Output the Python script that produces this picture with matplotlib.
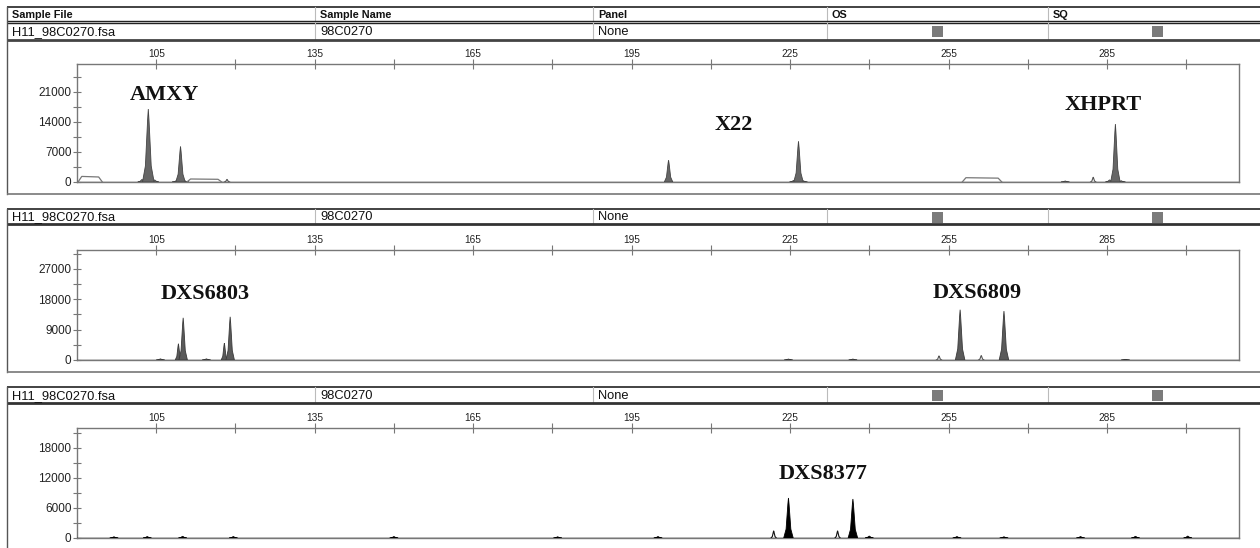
import numpy as np
import matplotlib.pyplot as plt
from matplotlib.patches import Rectangle

W, H = 1260, 548

# ---- header table ----
header_cols = ["Sample File", "Sample Name", "Panel", "OS", "SQ"]
row_values = ["H11_98C0270.fsa", "98C0270", "None"]
col_edges = [7, 315, 593, 827, 1048]

# ---- size axis (bp) ----
size_lim = (90, 310)
size_major = [105, 135, 165, 195, 225, 255, 285]
size_minor = [120, 150, 180, 210, 240, 270, 300]

# ---- panel 1 (blue dye): AMXY, X22, XHPRT ----
p1_pos = [103.5, 109.6, 202.0, 226.6, 286.6]
p1_height = [17000, 8300, 5100, 9500, 13500]
p1_width = [1.1, 0.9, 0.8, 0.9, 0.9]
p1_small_pos = [102.3, 104.7, 108.8, 110.4, 225.7, 227.5, 285.5, 287.7, 277.1]
p1_small_height = [600, 500, 300, 300, 400, 300, 500, 300, 250]
p1_open_pos = [118.4, 282.4]
p1_open_height = [600, 1100]
p1_plateau_start = [90.2, 110.8, 257.6]
p1_plateau_end = [94.8, 117.4, 265.1]
p1_plateau_height = [1300, 700, 1000]
p1_ymax = 27500
p1_ymajor = [0, 7000, 14000, 21000]
p1_yminor = [3500, 10500, 17500, 24500]
p1_labels = ["AMXY", "X22", "XHPRT"]
p1_label_x = [106.5, 214.3, 284.3]
p1_label_y = [20300, 13300, 18000]

# ---- panel 2 (green dye): DXS6803, DXS6809 ----
p2_pos = [109.2, 110.1, 117.9, 119.0, 257.2, 265.5]
p2_height = [4800, 12500, 5000, 12800, 14900, 14500]
p2_width = [0.6, 0.8, 0.6, 0.8, 0.9, 0.9]
p2_small_pos = [105.8, 114.5, 224.7, 236.9, 288.5]
p2_small_height = [350, 350, 300, 300, 200]
p2_open_pos = [253.2, 261.2]
p2_open_height = [1200, 1300]
p2_ymax = 32600
p2_ymajor = [0, 9000, 18000, 27000]
p2_yminor = [4500, 13500, 22500, 31500]
p2_labels = ["DXS6803", "DXS6809"]
p2_label_x = [114.3, 260.4]
p2_label_y = [19600, 19900]

# ---- panel 3 (yellow dye, drawn black): DXS8377 ----
p3_pos = [224.7, 236.9]
p3_height = [8000, 7800]
p3_width = [0.9, 0.9]
p3_small_pos = [97.0, 103.3, 110.0, 119.6, 150.0, 181.0, 200.0, 240.0,
                256.6, 265.5, 280.0, 290.4, 300.3]
p3_small_height = [250, 300, 350, 300, 300, 250, 300, 400,
                   300, 250, 300, 350, 400]
p3_open_pos = [221.9, 234.0]
p3_open_height = [1400, 1400]
p3_ymax = 22000
p3_ymajor = [0, 6000, 12000, 18000]
p3_yminor = [3000, 9000, 15000, 21000]
p3_labels = ["DXS8377"]
p3_label_x = [231.2]
p3_label_y = [12800]

SANS = "Liberation Sans"
SERIF = "Liberation Serif"


def spike(c, h, w):
    xs = [c - w, c - 0.5 * w, c - 0.12 * w, c, c + 0.12 * w, c + 0.5 * w, c + w]
    ys = [0, 0.22 * h, 0.85 * h, h, 0.85 * h, 0.22 * h, 0]
    return xs, ys


fig = plt.figure(figsize=(W / 100, H / 100), dpi=100)

# background layer in pixel coordinates for the table rows / boxes
bg = fig.add_axes([0, 0, 1, 1], zorder=0)
bg.set_xlim(0, W)
bg.set_ylim(H, 0)
bg.axis("off")


def hline(y, lw=1.0, color="#222"):
    bg.plot([col_edges[0], W + 5], [y, y], color=color, lw=lw, solid_capstyle="butt")


def draw_row(top, bottom):
    # values row of the sample table
    for x in col_edges[1:]:
        bg.plot([x, x], [top, bottom], color="#bbb", lw=0.8)
    for x, txt in zip(col_edges, row_values):
        bg.text(x + 5, (top + bottom) / 2 + 1, txt, fontsize=9.3, family=SANS,
                va="center", ha="left", color="#111")
    for x in (932, 1152):
        bg.add_patch(Rectangle((x, top + 3), 11, 11, color="#7b7b7b", lw=0))


# panel 1 header (column titles + row)
hline(7, 1.2)
for x in col_edges[1:]:
    bg.plot([x, x], [7, 21], color="#bbb", lw=0.8)
for x, txt in zip(col_edges, header_cols):
    bg.text(x + 5, 14.5, txt, fontsize=7.8, family=SANS, weight="bold",
            va="center", ha="left", color="#111")
hline(21, 1.0)
hline(23, 1.0)
draw_row(23, 39)
hline(39.5, 2.0, "#444")
bg.plot([7, 7], [7, 194], color="#555", lw=1.0)
hline(194, 1.2, "#777")

# panel 2 header
hline(209, 1.2)
draw_row(209, 224)
hline(224, 2.0, "#333")
bg.plot([7, 7], [209, 372], color="#555", lw=1.0)
hline(372, 1.2, "#777")

# panel 3 header
hline(387, 1.2)
draw_row(387, 403)
hline(403, 2.0, "#333")
bg.plot([7, 7], [387, H + 2], color="#555", lw=1.0)

panels = [
    dict(bottom=1 - 182 / H, top=1 - 64 / H, pos=p1_pos, height=p1_height, width=p1_width,
         spos=p1_small_pos, sh=p1_small_height, opos=p1_open_pos, oh=p1_open_height,
         ymax=p1_ymax, ymaj=p1_ymajor, ymin=p1_yminor, labels=p1_labels,
         lx=p1_label_x, ly=p1_label_y, fc="#666666", ec="#444444"),
    dict(bottom=1 - 360 / H, top=1 - 250 / H, pos=p2_pos, height=p2_height, width=p2_width,
         spos=p2_small_pos, sh=p2_small_height, opos=p2_open_pos, oh=p2_open_height,
         ymax=p2_ymax, ymaj=p2_ymajor, ymin=p2_yminor, labels=p2_labels,
         lx=p2_label_x, ly=p2_label_y, fc="#5a5a5a", ec="#3a3a3a"),
    dict(bottom=1 - 538 / H, top=1 - 428 / H, pos=p3_pos, height=p3_height, width=p3_width,
         spos=p3_small_pos, sh=p3_small_height, opos=p3_open_pos, oh=p3_open_height,
         ymax=p3_ymax, ymaj=p3_ymajor, ymin=p3_yminor, labels=p3_labels,
         lx=p3_label_x, ly=p3_label_y, fc="#000000", ec="#000000"),
]

left, right = 77 / W, 1239 / W
for i, p in enumerate(panels):
    ax = fig.add_axes([left, p["bottom"], right - left, p["top"] - p["bottom"]], zorder=2)
    ax.patch.set_alpha(0)
    ax.set_xlim(*size_lim)
    ax.set_ylim(0, p["ymax"])

    ax.axhline(0, color=p["ec"], lw=1.0, zorder=3)
    for c, h, w in zip(p["pos"], p["height"], p["width"]):
        xs, ys = spike(c, h, w)
        ax.fill(xs, ys, facecolor=p["fc"], edgecolor=p["ec"], lw=0.6, zorder=4)
    for c, h in zip(p["spos"], p["sh"]):
        xs, ys = spike(c, h, 0.8)
        ax.fill(xs, ys, facecolor=p["fc"], edgecolor=p["ec"], lw=0.5, zorder=3)
    for c, h in zip(p["opos"], p["oh"]):
        xs, ys = spike(c, h, 0.5)
        ax.plot(xs, ys, color="#555" if i < 2 else "#111", lw=0.8, zorder=3)
    if i == 0:
        for x0, x1, h in zip(p1_plateau_start, p1_plateau_end, p1_plateau_height):
            ax.plot([x0, x0 + 0.7, x1 - 0.7, x1], [0, h, h * 0.9, 0],
                    color="#777", lw=0.9, zorder=3)

    for txt, x, y in zip(p["labels"], p["lx"], p["ly"]):
        ax.text(x, y, txt, fontsize=16, family=SERIF, weight="bold",
                ha="center", va="center", color="#111")

    ax.xaxis.tick_top()
    ax.set_xticks(size_major)
    ax.set_xticks(size_minor, minor=True)
    ax.set_xticklabels([str(v) for v in size_major], fontsize=7.3, family=SANS)
    ax.set_yticks(p["ymaj"])
    ax.set_yticks(p["ymin"], minor=True)
    ax.set_yticklabels([str(v) for v in p["ymaj"]], fontsize=8.5, family=SANS)
    ax.tick_params(axis="x", which="both", direction="inout", length=7, width=0.8,
                   color="#777", pad=0, labelcolor="#222")
    ax.tick_params(axis="y", which="both", direction="inout", length=6, width=0.8,
                   color="#777", pad=1, labelcolor="#222")
    for s in ax.spines.values():
        s.set_color("#777")
        s.set_linewidth(1.0)

fig.savefig("out.png", dpi=100)
